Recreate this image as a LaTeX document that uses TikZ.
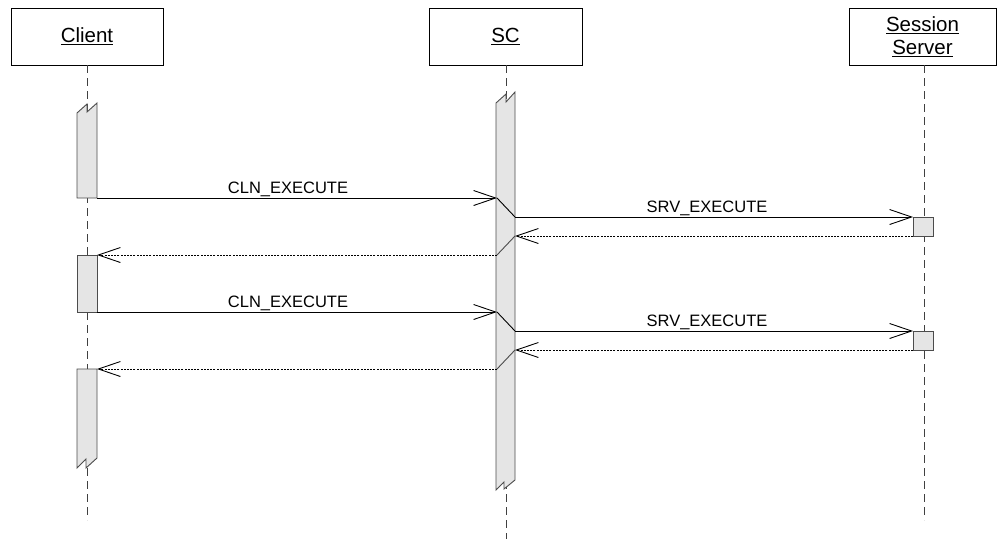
\documentclass[tikz,border=0pt]{standalone}
\usepackage{fontspec}
\setmainfont{Liberation Sans}
\usetikzlibrary{arrows.meta}

\begin{document}
\begin{tikzpicture}[
        x=1pt, y=-1pt,
        actor/.style={draw, line width=0.9pt, minimum height=57pt, align=center,
            font=\fontsize{20.5}{24}\selectfont},
        lifeline/.style={line width=0.9pt, black!75, dash pattern=on 8pt off 5pt},
        bar/.style={fill=black!10, draw=black!70, line width=0.9pt},
        msg/.style={line width=0.9pt, -{Straight Barb[length=22pt,width=15pt,line width=0.9pt]}},
        reply/.style={line width=0.9pt, dash pattern=on 2pt off 1.2pt,
            -{Straight Barb[length=22pt,width=15pt,line width=0.9pt]}},
        link/.style={line width=0.9pt},
        lbl/.style={anchor=base, inner sep=0pt, font=\fontsize{16.5}{19}\selectfont}
    ]

        \useasboundingbox (0,0) rectangle (997,539);

        % heads
        \node[actor, minimum width=152pt] (client) at (87,36.5) {\underline{Client}};
        \node[actor, minimum width=153pt] (sc) at (505.5,36.5) {\underline{SC}};
        \node[actor, minimum width=147pt] (ss) at (922.5,36.5) {\underline{Session}\\[-1pt]\underline{Server}};

        % lifelines
        \draw[lifeline] (87,65) -- (87,520);
        \draw[lifeline] (506,65) -- (506,539);
        \draw[lifeline] (924,65) -- (924,520);

        % activations
        \draw[bar] (77,113) -- (87,104) -- (87,112) -- (97,103) -- (97,198) -- (77,198) -- cycle;
        \draw[bar] (77,255) rectangle (97,312);
        \draw[bar] (77,369) -- (97,369) -- (97,458) -- (86,468) -- (86,459) -- (77,468) -- cycle;
        \draw[bar] (496,103) -- (506,94) -- (506,102) -- (515,92) -- (515,480)
            -- (504,489) -- (504,482) -- (496,490) -- cycle;
        \draw[bar] (913,217) rectangle (933,236);
        \draw[bar] (913,331) rectangle (933,350);

        % message ends
        \coordinate (c1) at (97,198);   \coordinate (s1) at (497,198);
        \coordinate (s2) at (515,217);  \coordinate (v1) at (913,217);
        \coordinate (v2) at (913,236);  \coordinate (s3) at (515,236);
        \coordinate (s4) at (497,255);  \coordinate (c2) at (97,255);
        \coordinate (c3) at (97,312);   \coordinate (s5) at (497,312);
        \coordinate (s6) at (515,331);  \coordinate (v3) at (913,331);
        \coordinate (v4) at (913,350);  \coordinate (s7) at (515,350);
        \coordinate (s8) at (497,369);  \coordinate (c4) at (97,369);

        % first call
        \draw[msg] (c1) -- (s1);
        \node[lbl] (m1) at (288,193) {CLN\_EXECUTE};
        \draw[link] (s1) -- (s2);
        \draw[msg] (s2) -- (v1);
        \node[lbl] (m2) at (707,212) {SRV\_EXECUTE};
        \draw[reply] (v2) -- (s3);
        \draw[link, black!70] (s3) -- (s4);
        \draw[reply] (s4) -- (c2);

        % second call
        \draw[msg] (c3) -- (s5);
        \node[lbl] (m3) at (288,307) {CLN\_EXECUTE};
        \draw[link] (s5) -- (s6);
        \draw[msg] (s6) -- (v3);
        \node[lbl] (m4) at (707,326) {SRV\_EXECUTE};
        \draw[reply] (v4) -- (s7);
        \draw[link, black!70] (s7) -- (s8);
        \draw[reply] (s8) -- (c4);

    \end{tikzpicture}
\end{document}
